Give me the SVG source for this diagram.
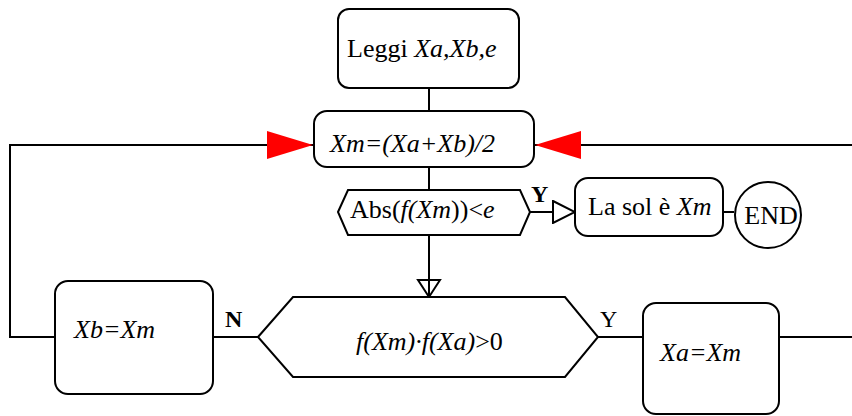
<svg xmlns="http://www.w3.org/2000/svg" width="852" height="416" viewBox="0 0 852 416">
<style>
.s{fill:#fff;stroke:#000;stroke-width:2}
.c{fill:none;stroke:#000;stroke-width:2}
text{font-family:"Liberation Serif","Times New Roman",serif;font-size:26px;fill:#000}
.i{font-style:italic}
.l{font-size:24px}
.b{font-weight:bold}
</style>
<defs>
<marker id="red" markerWidth="46" markerHeight="28" refX="46" refY="14" orient="auto" markerUnits="userSpaceOnUse">
<path d="M0,0 L46,14 L0,28 Z" fill="#ff0000"/>
</marker>
<marker id="open" markerWidth="24" markerHeight="24" refX="23" refY="12" orient="auto" markerUnits="userSpaceOnUse">
<path d="M1,1 L23,12 L1,23 Z" fill="#fff" stroke="#000" stroke-width="2"/>
</marker>
<marker id="open2" markerWidth="20" markerHeight="26" refX="18" refY="13" orient="auto" markerUnits="userSpaceOnUse">
<path d="M1,2 L18,13 L1,24 Z" fill="none" stroke="#000" stroke-width="2"/>
</marker>
</defs>
<g id="connectors">
<path class="c" d="M429,88 V111"/>
<path class="c" d="M429,167 V190"/>
<path class="c" d="M429,235 V297" marker-end="url(#open2)"/>
<path class="c" d="M530,212 H575" marker-end="url(#open)"/>
<path class="c" d="M723,212 H734"/>
<path class="c" d="M258,337 H213"/>
<path class="c" d="M55,337 H10 V145 H313" marker-end="url(#red)"/>
<path class="c" d="M598,337 H643"/>
<path class="c" d="M779,337 H852 M852,145 H535" marker-end="url(#red)"/>
<text class="b l" x="531" y="202">Y</text>
<text class="b l" x="225" y="327">N</text>
<text class="l" x="600" y="327">Y</text>
</g>
<g id="read">
<rect class="s" x="338" y="9" width="181" height="79" rx="11"/>
<text x="347" y="57">Leggi <tspan class="i">Xa,Xb,e</tspan></text>
</g>
<g id="mid">
<rect class="s" x="314" y="111" width="220" height="56" rx="13"/>
<text class="i" x="330" y="152">Xm=(Xa+Xb)/2</text>
</g>
<g id="check">
<polygon class="s" points="338,212 348,190 520,190 530,212 520,235 348,235"/>
<text x="350" y="218">Abs(<tspan class="i">f(Xm</tspan>))&lt;<tspan class="i">e</tspan></text>
</g>
<g id="sol">
<rect class="s" x="575" y="178" width="148" height="58" rx="13"/>
<text x="588" y="215">La sol è <tspan class="i">Xm</tspan></text>
</g>
<g id="end">
<circle class="s" cx="768" cy="215" r="33"/>
<text x="771" y="224" text-anchor="middle">END</text>
</g>
<g id="cond">
<polygon class="s" points="258,337 293,297 565,297 598,337 565,377 293,377"/>
<text x="356" y="350"><tspan class="i">f(Xm)·f(Xa)</tspan>&gt;0</text>
</g>
<g id="xb">
<rect class="s" x="55" y="281" width="158" height="113" rx="13"/>
<text class="i" x="74" y="338">Xb=Xm</text>
</g>
<g id="xa">
<rect class="s" x="643" y="303" width="136" height="111" rx="13"/>
<text class="i" x="660" y="361">Xa=Xm</text>
</g>
</svg>
